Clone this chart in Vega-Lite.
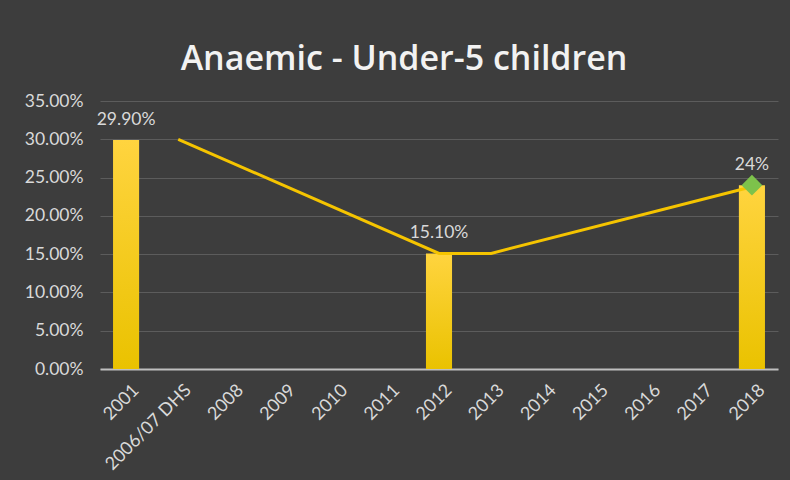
{
  "$schema": "https://vega.github.io/schema/vega-lite/v6.json",
  "width": 678,
  "height": 268,
  "autosize": {"type": "none"},
  "padding": {"left": 100, "top": 101, "right": 12, "bottom": 111},
  "background": "#3d3d3d",
  "title": {
    "text": "Anaemic - Under-5 children",
    "color": "#f2f2f2",
    "font": "Open Sans",
    "fontSize": 34,
    "fontWeight": 600,
    "anchor": "middle",
    "dx": -35,
    "dy": 5,
    "offset": 20
  },
  "config": {
    "view": {"stroke": null},
    "font": "Lato"
  },
  "datasets": {
    "bars": [
      {"year": "2001", "value": 0.299, "label": "29.90%"},
      {"year": "2012", "value": 0.151, "label": "15.10%"},
      {"year": "2018", "value": 0.24, "label": "24%"}
    ],
    "trend": [
      {"year": "2006/07 DHS", "value": 0.30},
      {"year": "2012", "value": 0.151},
      {"year": "2013", "value": 0.151},
      {"year": "2018", "value": 0.238}
    ],
    "marker": [
      {"year": "2018", "value": 0.24}
    ]
  },
  "encoding": {
    "x": {
      "field": "year",
      "type": "nominal",
      "scale": {
        "domain": ["2001", "2006/07 DHS", "2008", "2009", "2010", "2011", "2012", "2013", "2014", "2015", "2016", "2017", "2018"],
        "paddingInner": 0,
        "paddingOuter": 0
      },
      "axis": {
        "title": null,
        "labelAngle": -45,
        "labelColor": "#d9d9d9",
        "labelFontSize": 18,
        "labelPadding": 12,
        "labelOffset": 4,
        "labelOverlap": false,
        "ticks": false,
        "domainColor": "#bfbfbf",
        "domainWidth": 2,
        "grid": false
      }
    },
    "y": {
      "field": "value",
      "type": "quantitative",
      "scale": {"domain": [0, 0.35], "nice": false},
      "axis": {
        "title": null,
        "format": ".2%",
        "values": [0, 0.05, 0.1, 0.15, 0.2, 0.25, 0.3, 0.35],
        "labelColor": "#d9d9d9",
        "labelFontSize": 17.5,
        "labelPadding": 17,
        "labelOverlap": false,
        "ticks": false,
        "domain": false,
        "gridColor": "#5c5c5c",
        "gridWidth": 1
      }
    }
  },
  "layer": [
    {
      "data": {"name": "bars"},
      "mark": {
        "type": "bar",
        "width": {"band": 0.5},
        "color": {
          "gradient": "linear",
          "x1": 0, "y1": 0, "x2": 0, "y2": 1,
          "stops": [
            {"offset": 0, "color": "#ffd43f"},
            {"offset": 1, "color": "#eac200"}
          ]
        }
      }
    },
    {
      "data": {"name": "bars"},
      "mark": {
        "type": "text",
        "color": "#d9d9d9",
        "fontSize": 17.5,
        "baseline": "middle",
        "dy": -20
      },
      "encoding": {
        "text": {"field": "label"}
      }
    },
    {
      "data": {"name": "trend"},
      "mark": {"type": "line", "color": "#f5c400", "strokeWidth": 3}
    },
    {
      "data": {"name": "marker"},
      "mark": {"type": "point", "shape": "diamond", "filled": true, "size": 430, "color": "#7dc24b", "opacity": 1}
    }
  ]
}
